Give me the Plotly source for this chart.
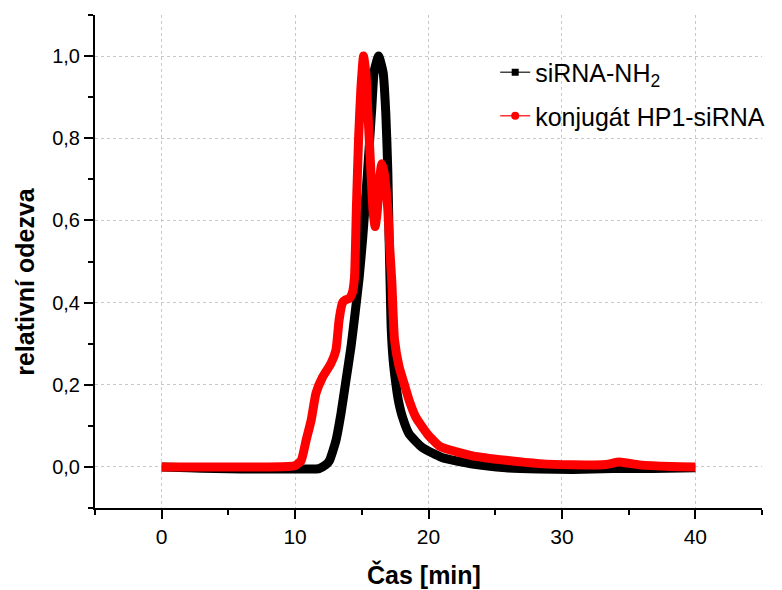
import plotly.graph_objects as go

# siRNA-NH2 (black)
t_black = [0, 2, 4, 6, 8, 10, 11.0, 11.8, 12.3, 12.57, 13.06, 13.44, 13.81, 14.19, 14.5,
           14.8, 15.06, 15.43, 15.76, 15.93, 16.26, 16.6, 16.8, 16.95, 17.05, 17.12, 17.2,
           17.35, 17.55, 17.74, 18.05, 18.55, 19.55, 21.0, 23.3, 25.8, 28.3, 30.8, 33.8,
           36.8, 40]
v_black = [0.0, -0.002, -0.004, -0.005, -0.005, -0.005, -0.005, -0.004, 0.005, 0.015, 0.064,
           0.13, 0.21, 0.292, 0.375, 0.46, 0.554, 0.718, 0.88, 0.963, 1.0, 0.96, 0.86, 0.72,
           0.55, 0.45, 0.34, 0.26, 0.203, 0.162, 0.121, 0.08, 0.047, 0.023, 0.007, -0.002,
           -0.005, -0.006, -0.004, -0.004, -0.002]

# konjugát HP1-siRNA (red)
t_red = [0, 2, 4, 6, 8, 9.5, 10.0, 10.45, 10.82, 11.2, 11.57, 12.05, 12.69, 13.06, 13.3,
         13.56, 13.8, 14.06, 14.3, 14.45, 14.6, 14.76, 14.93, 15.13, 15.3, 15.43, 15.68,
         15.85, 16.0, 16.15, 16.3, 16.5, 16.65, 16.93, 17.1, 17.25, 17.45, 17.8, 18.17,
         18.55, 19.05, 19.92, 20.8, 21.3, 23.3, 25.8, 28.3, 30.8, 33.3, 34.3, 35.8, 38.2, 40]
v_red = [0.0, 0.0, 0.0, 0.0, 0.0, 0.001, 0.003, 0.015, 0.064, 0.113, 0.18, 0.218, 0.252,
         0.284, 0.358, 0.40, 0.407, 0.41, 0.425, 0.46, 0.636, 0.80, 0.92, 1.0, 0.96, 0.88,
         0.72, 0.62, 0.585, 0.62, 0.69, 0.738, 0.72, 0.636, 0.53, 0.45, 0.31, 0.243, 0.203,
         0.162, 0.121, 0.08, 0.051, 0.044, 0.027, 0.016, 0.008, 0.005, 0.006, 0.012, 0.005,
         0.001, 0.0]

names = ["siRNA-NH<sub>2</sub>", "konjugát HP1-siRNA"]
x_ticks = [0, 10, 20, 30, 40]
y_ticks = [0.0, 0.2, 0.4, 0.6, 0.8, 1.0]
x_title = "Čas [min]"
y_title = "relativní odezva"

FONT = "Liberation Sans, Arial"

fig = go.Figure()
fig.add_trace(go.Scatter(x=t_black, y=v_black, mode="lines", showlegend=False,
                         line=dict(color="black", width=9, shape="spline", smoothing=0.5)))
fig.add_trace(go.Scatter(x=t_red, y=v_red, mode="lines", showlegend=False,
                         line=dict(color="#ff0000", width=9, shape="spline", smoothing=0.5)))
# legend entries
fig.add_trace(go.Scatter(x=[None], y=[None], mode="lines+markers", name=names[0],
                         legendgroup="a",
                         line=dict(color="#444444", width=1.5),
                         marker=dict(symbol="square", size=7, color="black")))
fig.add_trace(go.Scatter(x=[None], y=[None], mode="lines+markers", name=names[1],
                         legendgroup="b",
                         line=dict(color="#ff3333", width=1.5),
                         marker=dict(symbol="circle", size=8, color="#ff0000")))

axis_common = dict(showline=True, linecolor="black", linewidth=2, ticks="outside",
                   tickcolor="black", tickwidth=2, ticklen=9, showgrid=True,
                   gridcolor="#c8c8c8", griddash="dot", gridwidth=1, zeroline=False,
                   mirror=False, automargin=False)

fig.update_xaxes(range=[-5, 45], tickvals=x_ticks,
                 tickfont=dict(size=21, family=FONT, color="black"),
                 minor=dict(dtick=5, tick0=0, ticklen=5, tickwidth=2, tickcolor="black",
                            ticks="outside", showgrid=False),
                 **axis_common)
fig.update_yaxes(range=[-0.1, 1.1], tickvals=y_ticks, tickformat=".1f",
                 tickfont=dict(size=20, family=FONT, color="black"),
                 minor=dict(dtick=0.1, tick0=0, ticklen=5, tickwidth=2, tickcolor="black",
                            ticks="outside", showgrid=False),
                 **axis_common)

fig.add_annotation(text="<b>" + x_title + "</b>", xref="paper", yref="paper",
                   x=0.493, y=-0.134, xanchor="center", yanchor="middle", showarrow=False,
                   font=dict(size=25, family=FONT, color="black"))
fig.add_annotation(text="<b>" + y_title + "</b>", xref="paper", yref="paper",
                   x=-0.104, y=0.46, xanchor="center", yanchor="middle", showarrow=False,
                   textangle=-90, font=dict(size=25, family=FONT, color="black"))

fig.update_layout(
    width=782, height=590,
    margin=dict(l=95, r=17, t=15, b=82),
    paper_bgcolor="white", plot_bgcolor="white",
    separators=", ",
    font=dict(family=FONT, color="black"),
    legend=dict(x=0.6, y=0.93, xanchor="left", yanchor="top",
                bgcolor="rgba(255,255,255,0)", font=dict(size=25, color="black"),
                itemwidth=30, tracegroupgap=8),
)

fig.write_html("out.html")
